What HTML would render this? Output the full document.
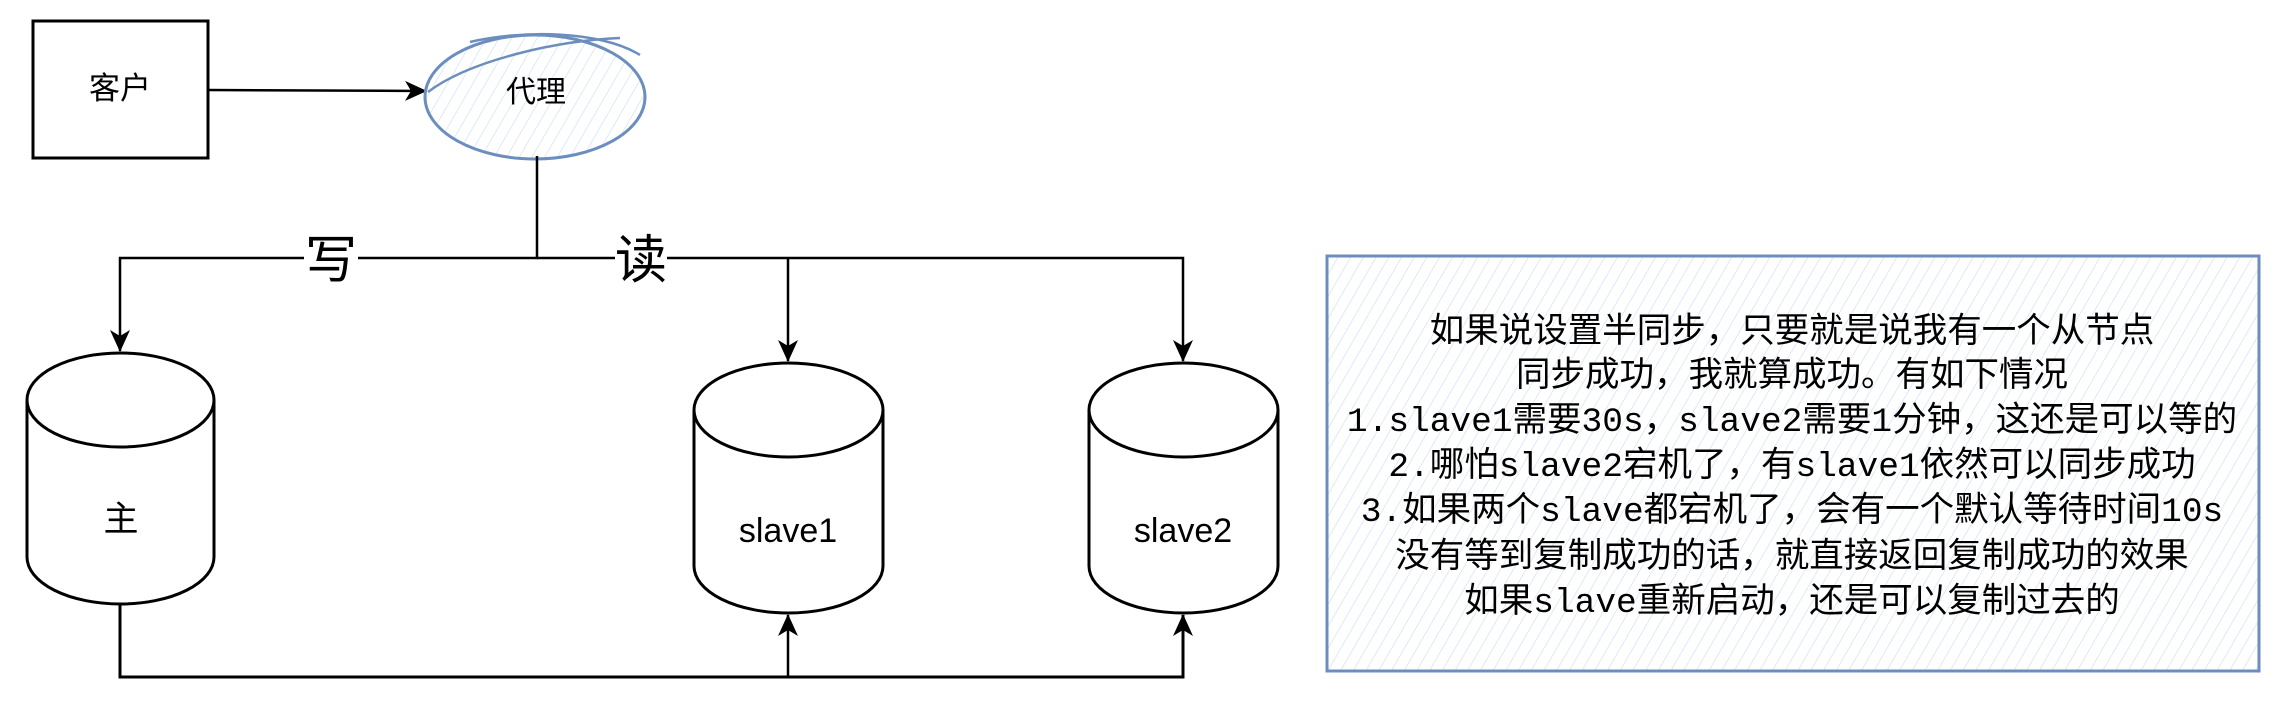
<!DOCTYPE html>
<html><head><meta charset="utf-8"><style>
html,body{margin:0;padding:0;background:#fff;}
svg text{font-family:"Liberation Sans","Noto Sans CJK SC",sans-serif;}
</style></head><body>
<svg width="2296" height="713" viewBox="0 0 2296 713" xmlns="http://www.w3.org/2000/svg">
<defs>
<pattern id="h" width="11" height="11" patternUnits="userSpaceOnUse" patternTransform="rotate(30)">
<line x1="0" y1="0" x2="0" y2="11" stroke="#c9dcf5" stroke-width="1.2"/>
</pattern>
<marker id="a" markerWidth="22" markerHeight="22" refX="21" refY="11" orient="auto" markerUnits="userSpaceOnUse">
<path d="M0,1 L22,11 L0,21 L6,11 Z" fill="#000"/>
</marker>
</defs>
<!-- client -->
<rect x="33" y="21" width="175" height="137" fill="#fff" stroke="#000" stroke-width="3"/>
<text x="120" y="99" font-size="31" text-anchor="middle">客户</text>
<line x1="208" y1="90" x2="426" y2="91" stroke="#000" stroke-width="2.5" marker-end="url(#a)"/>
<!-- proxy -->
<ellipse cx="535" cy="97" rx="110" ry="62" fill="url(#h)"/>
<ellipse cx="535" cy="97" rx="110" ry="62" fill="none" stroke="#6c8ebf" stroke-width="3"/>
<path d="M470,42 C520,30 600,30 640,55 M428,92 C470,60 560,40 620,38" fill="none" stroke="#6c8ebf" stroke-width="2.5"/>
<text x="536" y="102" font-size="30" text-anchor="middle">代理</text>
<!-- connectors -->
<path d="M537,156 V258 H120 V351" fill="none" stroke="#000" stroke-width="2.5" marker-end="url(#a)"/>
<path d="M537,258 H1183 V361" fill="none" stroke="#000" stroke-width="2.5" marker-end="url(#a)"/>
<path d="M788,258 V361" fill="none" stroke="#000" stroke-width="2.5" marker-end="url(#a)"/>
<rect x="304" y="234" width="54" height="50" fill="#fff"/>
<text x="331" y="278" font-size="52" text-anchor="middle">写</text>
<rect x="615" y="234" width="52" height="50" fill="#fff"/>
<text x="641" y="278" font-size="52" text-anchor="middle">读</text>
<path d="M120,604 V677 H1183 V615" fill="none" stroke="#000" stroke-width="3" marker-end="url(#a)"/>
<path d="M788,677 V615" fill="none" stroke="#000" stroke-width="2.5" marker-end="url(#a)"/>
<!-- cylinders -->
<g fill="#fff" stroke="#000" stroke-width="3">
<path d="M27,400 A93.5,47 0 0 1 214,400 V557 A93.5,47 0 0 1 27,557 Z"/>
<path d="M27,400 A93.5,47 0 0 0 214,400"/>
<path d="M694,410 A94.5,47 0 0 1 883,410 V566 A94.5,47 0 0 1 694,566 Z"/>
<path d="M694,410 A94.5,47 0 0 0 883,410"/>
<path d="M1089,410 A94.5,47 0 0 1 1278,410 V566 A94.5,47 0 0 1 1089,566 Z"/>
<path d="M1089,410 A94.5,47 0 0 0 1278,410"/>
</g>
<text x="121" y="531" font-size="35" text-anchor="middle">主</text>
<text x="788" y="542" font-size="34" text-anchor="middle">slave1</text>
<text x="1183" y="542" font-size="34" text-anchor="middle">slave2</text>
<!-- note -->
<rect x="1327" y="256" width="932" height="415" fill="url(#h)" stroke="#6c8ebf" stroke-width="3"/>
<g font-size="34.5" text-anchor="middle">
<text x="1792" y="342" style="font-family:'Liberation Mono','Noto Sans CJK SC',monospace">如果说设置半同步，只要就是说我有一个从节点</text>
<text x="1792" y="386" style="font-family:'Liberation Mono','Noto Sans CJK SC',monospace">同步成功，我就算成功。有如下情况</text>
<text x="1792" y="431" style="font-family:'Liberation Mono','Noto Sans CJK SC',monospace">1.slave1需要30s，slave2需要1分钟，这还是可以等的</text>
<text x="1792" y="476" style="font-family:'Liberation Mono','Noto Sans CJK SC',monospace">2.哪怕slave2宕机了，有slave1依然可以同步成功</text>
<text x="1792" y="521" style="font-family:'Liberation Mono','Noto Sans CJK SC',monospace">3.如果两个slave都宕机了，会有一个默认等待时间10s</text>
<text x="1792" y="567" style="font-family:'Liberation Mono','Noto Sans CJK SC',monospace">没有等到复制成功的话，就直接返回复制成功的效果</text>
<text x="1792" y="612" style="font-family:'Liberation Mono','Noto Sans CJK SC',monospace">如果slave重新启动，还是可以复制过去的</text>
</g>
</svg>
</body></html>
